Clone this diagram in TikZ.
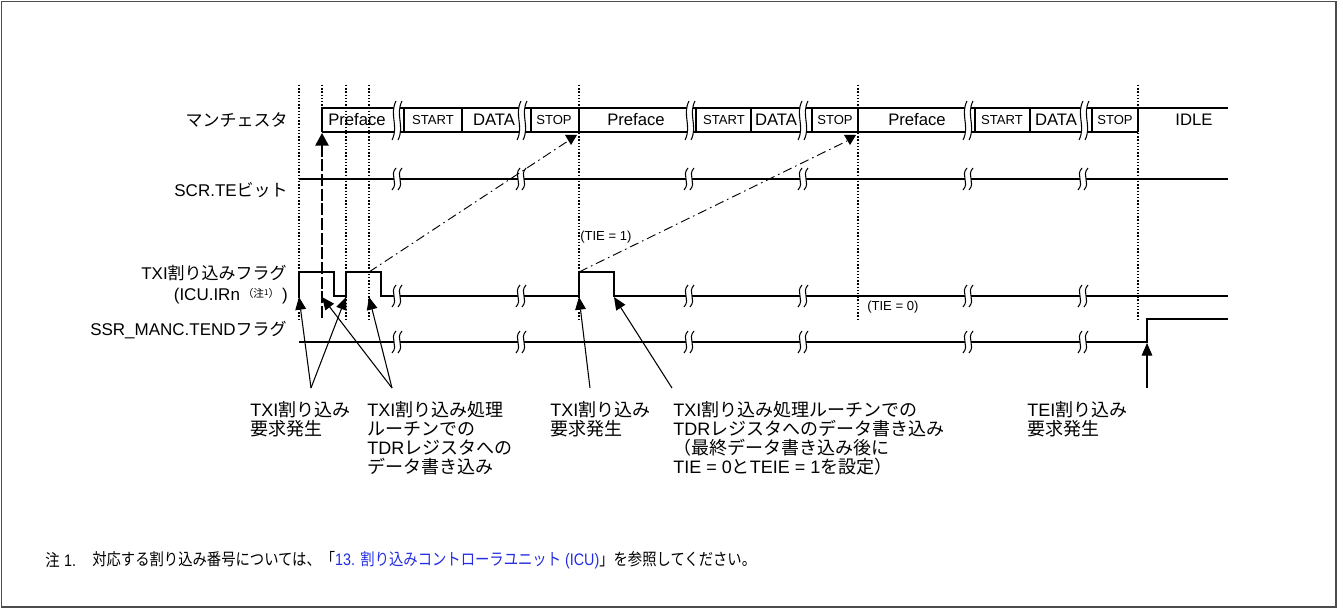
\documentclass[tikz,border=0pt]{standalone}
\usepackage{fontspec}
\setmainfont{Liberation Sans}
\newfontfamily\cjk{Noto Sans CJK JP}
\newfontfamily\cjkn[FakeStretch=0.86]{Noto Sans CJK JP}
\newfontfamily\latn[FakeStretch=0.86]{Liberation Sans}
\usetikzlibrary{arrows.meta}
\definecolor{linkblue}{RGB}{35,45,225}
\newcommand\J[1]{{\cjk #1}}
\newcommand\JN[1]{{\cjkn #1}}
% break mark: centre x, top y, bottom y
\newcommand\brk[3]{%
 \fill[white] ({#1-1},#2) .. controls ({#1-8},{#2+0.35*(#3-#2)}) and ({#1+2},{#2+0.65*(#3-#2)}) .. ({#1-5},#3) -- ({#1+1},#3) .. controls ({#1+8},{#2+0.65*(#3-#2)}) and ({#1-2},{#2+0.35*(#3-#2)}) .. ({#1+5},#2) -- cycle;
 \draw[line width=0.8pt] ({#1-1},#2) .. controls ({#1-8},{#2+0.35*(#3-#2)}) and ({#1+2},{#2+0.65*(#3-#2)}) .. ({#1-5},#3);
 \draw[line width=0.8pt] ({#1+5},#2) .. controls ({#1-2},{#2+0.35*(#3-#2)}) and ({#1+8},{#2+0.65*(#3-#2)}) .. ({#1+1},#3);
}
\begin{document}
\begin{tikzpicture}[x=0.75pt,y=-0.75pt,
  wave/.style={line width=1.2pt},
  dotv/.style={line width=1.1pt, dash pattern=on 1.1pt off 1.3pt},
  dashdot/.style={line width=0.7pt, dash pattern=on 7pt off 3pt on 1.2pt off 3pt},
  ptr/.style={line width=0.8pt, -{Triangle[length=9.5pt,width=8pt]}},
  lbl/.style={anchor=east, inner sep=0pt, font=\fontsize{12.75}{14}\selectfont},
  note/.style={anchor=north west, inner sep=0pt, align=left, font=\fontsize{13.5}{14.25}\selectfont},
  big/.style={inner sep=0pt, font=\fontsize{12.5}{14}\selectfont},
  small/.style={inner sep=0pt, font=\fontsize{9.8}{11}\selectfont},
  tie/.style={anchor=west, inner sep=0pt, font=\fontsize{9.8}{11}\selectfont},
  foot/.style={anchor=west, inner sep=0pt, font=\fontsize{12.5}{14}\selectfont},
  frame/.style={line width=0.9pt, draw=black!70}
]
\useasboundingbox (0,0) rectangle (1343,610);
\draw[frame] (1.5,1.5) rectangle (1336,607);

% ---- signal labels
\node[lbl] (lM) at (288,120) {\J{マンチェスタ}};
\node[lbl] (lS) at (288,190) {SCR.TE\J{ビット}};
\node[lbl] (lT1) at (287,273) {TXI\J{割り込みフラグ}};
\node[lbl] (lT2) at (288,296) {(ICU.IRn\,\raisebox{2pt}{\fontsize{8}{9}\selectfont\cjk （注\raisebox{2pt}{\fontsize{6}{7}\selectfont 1}）}\,)};
\node[lbl] (lE) at (287,330) {SSR\_MANC.TEND\J{フラグ}};

% ---- Manchester row
\draw[wave] (322,108) -- (1228,108);
\draw[wave] (322,132) -- (1138,132);
\foreach \xx in {322,404,462,531,579,696,751,812,858,975,1030,1092,1138}
  \draw[wave] (\xx,108) -- (\xx,132);
\node[big]   (p1) at (357,120) {Preface};
\node[small] (s1) at (433,120) {START};
\node[big]   (d1) at (494,120) {DATA};
\node[small] (o1) at (554,120) {STOP};
\node[big]   (p2) at (636,120) {Preface};
\node[small] (s2) at (724,120) {START};
\node[big]   (d2) at (776,120) {DATA};
\node[small] (o2) at (835,120) {STOP};
\node[big]   (p3) at (917,120) {Preface};
\node[small] (s3) at (1002,120) {START};
\node[big]   (d3) at (1056,120) {DATA};
\node[small] (o3) at (1115,120) {STOP};
\node[big]   (idle) at (1194,120) {IDLE};

% ---- SCR.TE row
\draw[wave] (299,179) -- (1228,179);
% ---- TXI flag row
\draw[wave] (299,296) -- (299,272) -- (334,272) -- (334,296) -- (346,296) -- (346,272) -- (381,272) -- (381,296)
  -- (579,296) -- (579,272) -- (614,272) -- (614,296) -- (1228,296);
% ---- TEND row
\draw[wave] (299,342) -- (1147,342) -- (1147,319) -- (1228,319);

% ---- breaks
\foreach \bx in {397,522,690,803,968,1084} {
  \brk{\bx}{101}{140}
}
\foreach \bx in {397,521,689,803,968,1083} {
  \brk{\bx}{168}{190}
  \brk{\bx}{285}{307}
  \brk{\bx}{331}{353}
}

% ---- vertical dotted lines
\foreach \xx in {299,346,369,579,858,1138}
  \draw[dotv] (\xx,85) -- (\xx,320);
\draw[dotv] (322,85) -- (322,108);
\coordinate (upS) at (322,318);
\coordinate (upT) at (322,133);
\draw[line width=1.1pt, dash pattern=on 9pt off 2pt, -{Triangle[length=9.5pt,width=10pt]}] (upS) -- (upT);

% ---- dash-dot lines and their heads
\coordinate (dd1s) at (369,272);
\coordinate (dd1e) at (568,141);
\coordinate (dd2s) at (579,272);
\coordinate (dd2e) at (847,141);
\draw[dashdot] (dd1s) -- (dd1e);
\draw[dashdot] (dd2s) -- (dd2e);
\fill (565,135) -- (577,135) -- (571,145) -- cycle;
\fill (844,135) -- (856,135) -- (850,145) -- cycle;

\node[tie] (tie1) at (580,237) {(TIE = 1)};
\node[tie] (tie0) at (867,307) {(TIE = 0)};

% ---- pointer arrows
\coordinate (a1) at (311,388);
\coordinate (a2) at (392,388);
\coordinate (a3) at (590,388);
\coordinate (a4) at (672,388);
\coordinate (a5) at (1147,388);
\coordinate (t1) at (299,297);
\coordinate (t2) at (346,297);
\coordinate (t3) at (322,297);
\coordinate (t4) at (369,297);
\coordinate (t5) at (579,297);
\coordinate (t6) at (614,297);
\coordinate (t7) at (1147,343);
\draw[ptr] (a1) -- (t1);
\draw[ptr] (a1) -- (t2);
\draw[ptr] (a2) -- (t3);
\draw[ptr] (a2) -- (t4);
\draw[ptr] (a3) -- (t5);
\draw[ptr] (a4) -- (t6);
\draw[ptr] (a5) -- (t7);

% ---- notes
\node[note] (n1) at (250,401) {TXI\J{割り込み}\\\J{要求発生}};
\node[note] (n2) at (367,401) {TXI\J{割り込み処理}\\\J{ルーチンでの}\\TDR\J{レジスタへの}\\\J{データ書き込み}};
\node[note] (n3) at (550,401) {TXI\J{割り込み}\\\J{要求発生}};
\node[note] (n4) at (673,401) {TXI\J{割り込み処理ルーチンでの}\\TDR\J{レジスタへのデータ書き込み}\\\J{（最終データ書き込み後に}\\TIE = 0\J{と}TEIE = 1\J{を設定）}};
\node[note] (n5) at (1027,401) {TEI\J{割り込み}\\\J{要求発生}};

% ---- footnote
\node[foot] (f1) at (45,560) {\JN{注} {\latn 1.}};
\node[foot] (f2) at (92,560) {\JN{対応する割り込み番号については、「}\textcolor{linkblue}{{\latn 13. }\JN{割り込みコントローラユニット}{\latn\ (ICU)}}\JN{」を参照してください。}};
\end{tikzpicture}
\end{document}
